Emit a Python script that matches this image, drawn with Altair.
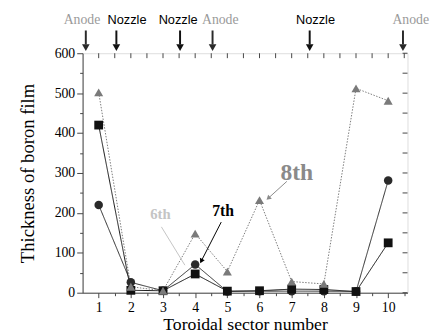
import altair as alt
import pandas as pd

# ---------------- data ----------------
sectors = [1, 2, 3, 4, 5, 6, 7, 8, 9, 10]
circle_vals = [220, 26, 5, 71, 3, 4, 4, 4, 3, 281]
square_vals = [420, 6, 5, 47, 4, 5, 9, 8, 3, 125]
triangle_vals = [502, 15, 5, 148, 53, 232, 28, 22, 512, 481]

series_names = ["circle", "square", "triangle"]
series_colors = ["#2a2a2a", "#111111", "#7a7a7a"]
series_shapes = ["circle", "square", "triangle-up"]
series_dash = [[1, 0], [1, 0], [1.5, 1.5]]
series_sizes = [75, 85, 95]

# top annotations (arrows pointing at sector boundaries)
anode_arrow_x = [0.6, 4.54, 10.46]
anode_text_x = [0.48, 4.78, 10.7]
nozzle_arrow_x = [1.55, 3.53, 7.56]
nozzle_text_x = [1.88, 3.47, 7.74]

# callouts
callout_labels = ["8th", "7th", "6th"]
callout_x = [7.16, 4.87, 2.92]
callout_y = [300, 204, 197]
callout_colors = ["#8a8a8a", "#000000", "#c4c4c4"]
callout_sizes = [24, 16, 15]
callout_line_x = [6.85, 4.81, 2.95]
callout_line_y = [279, 177, 165]
callout_line_x2 = [6.29, 4.20, 3.68]
callout_line_y2 = [238, 81, 69]
callout_head_angle = [228, 207, 215]
callout_has_head = [True, True, False]

# axis tick values
x_ticks = [1 + 0.5 * i for i in range(20)]
y_ticks = list(range(0, 601, 50))

W, H = 331, 244
X_DOMAIN = [0.5, 10.6]
Y_DOMAIN = [0, 600]
TICK_PX = 5

# ---------------- frames ----------------
rows = []
for name, vals in zip(series_names, [circle_vals, square_vals, triangle_vals]):
    for s, v in zip(sectors, vals):
        rows.append({"sector": s, "value": v, "series": name})
df = pd.DataFrame(rows)

top_df = pd.DataFrame(
    [{"ax": x, "tx": t, "kind": "Anode"} for x, t in zip(anode_arrow_x, anode_text_x)]
    + [{"ax": x, "tx": t, "kind": "Nozzle"} for x, t in zip(nozzle_arrow_x, nozzle_text_x)]
)
top_df["y_text"] = 683
top_df["y_top"] = 657
top_df["y_bot"] = 622
top_df["y_head"] = 614

call_df = pd.DataFrame({
    "label": callout_labels, "x": callout_x, "y": callout_y,
    "color": callout_colors, "size": callout_sizes,
    "lx": callout_line_x, "ly": callout_line_y,
    "lx2": callout_line_x2, "ly2": callout_line_y2,
    "angle": callout_head_angle, "head": callout_has_head,
})

# inward frame ticks (top and right edges), lengths derived from the scale domains
y_per_px = (Y_DOMAIN[1] - Y_DOMAIN[0]) / H
x_per_px = (X_DOMAIN[1] - X_DOMAIN[0]) / W
xt_df = pd.DataFrame({"t": x_ticks})
xt_df["y0"] = Y_DOMAIN[1]
xt_df["y1"] = Y_DOMAIN[1] - TICK_PX * y_per_px
yt_df = pd.DataFrame({"t": y_ticks})
yt_df["x0"] = X_DOMAIN[1]
yt_df["x1"] = X_DOMAIN[1] - TICK_PX * x_per_px

xs = alt.Scale(domain=X_DOMAIN, nice=False, zero=False)
ys = alt.Scale(domain=Y_DOMAIN, nice=False, zero=False)

SERIF = "Liberation Serif"
AXC = "#444444"

AX_X = alt.Axis(
    orient="bottom", values=x_ticks, title="Toroidal sector number",
    labelExpr="datum.value % 1 === 0 ? format(datum.value, 'd') : ''",
    tickSize={"condition": {"test": "datum.value % 1 === 0", "value": 5}, "value": 3},
    labelFont=SERIF, labelFontSize=14, labelColor="#000", labelPadding=3,
    titleFont=SERIF, titleFontSize=18, titleFontWeight="normal", titleColor="#000",
    titlePadding=1, domainColor=AXC, tickColor=AXC, grid=False,
)
AX_Y = alt.Axis(
    orient="left", values=y_ticks, title="Thickness of boron film",
    labelExpr="datum.value % 100 === 0 ? datum.label : ''",
    tickSize={"condition": {"test": "datum.value % 100 === 0", "value": 6}, "value": 3},
    labelFont=SERIF, labelFontSize=14, labelColor="#000", labelPadding=2,
    titleFont=SERIF, titleFontSize=19, titleFontWeight="normal", titleColor="#000",
    titlePadding=17, domainColor=AXC, tickColor=AXC, grid=False,
)


def X(field):
    return alt.X(field, type="quantitative", scale=xs, axis=AX_X)


def Y(field):
    return alt.Y(field, type="quantitative", scale=ys, axis=AX_Y)


color_enc = alt.Color("series:N", scale=alt.Scale(domain=series_names, range=series_colors), legend=None)
kind_color = alt.Color("kind:N", scale=alt.Scale(domain=["Anode", "Nozzle"], range=["#9a9a9a", "#000000"]), legend=None)

lines = alt.Chart(df).mark_line(strokeWidth=1).encode(
    x=X("sector"), y=Y("value"), color=color_enc,
    strokeDash=alt.StrokeDash("series:N", scale=alt.Scale(domain=series_names, range=series_dash), legend=None),
    detail="series:N",
)

points = alt.Chart(df).mark_point(filled=True, opacity=1).encode(
    x=X("sector"), y=Y("value"),
    color=color_enc,
    shape=alt.Shape("series:N", scale=alt.Scale(domain=series_names, range=series_shapes), legend=None),
    size=alt.Size("series:N", scale=alt.Scale(domain=series_names, range=series_sizes), legend=None),
)

top_ticks = alt.Chart(xt_df).mark_rule(color=AXC, strokeWidth=1).encode(
    x=X("t"), y=Y("y0"), y2="y1:Q",
)
right_ticks = alt.Chart(yt_df).mark_rule(color=AXC, strokeWidth=1).encode(
    y=Y("t"), x=X("x0"), x2="x1:Q",
)

top_rules = alt.Chart(top_df).mark_rule(strokeWidth=2).encode(
    x=X("ax"), y=Y("y_top"), y2="y_bot:Q", color=kind_color,
)
top_heads = alt.Chart(top_df).mark_point(filled=True, opacity=1, shape="triangle-down", size=60).encode(
    x=X("ax"), y=Y("y_head"), color=kind_color,
)
anode_text = alt.Chart(top_df).transform_filter("datum.kind === 'Anode'").mark_text(
    font=SERIF, fontSize=14, color="#9a9a9a", baseline="middle"
).encode(x=X("tx"), y=Y("y_text"), text="kind:N")
nozzle_text = alt.Chart(top_df).transform_filter("datum.kind === 'Nozzle'").mark_text(
    font="Liberation Sans", fontSize=13, color="#000000", baseline="middle"
).encode(x=X("tx"), y=Y("y_text"), text="kind:N")

call_text = alt.Chart(call_df).mark_text(font=SERIF, fontWeight="bold", baseline="middle").encode(
    x=X("x"), y=Y("y"), text="label:N",
    color=alt.Color("color:N", scale=None),
    size=alt.Size("size:Q", scale=None),
)
call_lines = alt.Chart(call_df).mark_rule(strokeWidth=1).encode(
    x=X("lx"), y=Y("ly"), x2="lx2:Q", y2="ly2:Q",
    color=alt.Color("color:N", scale=None),
)
call_heads = alt.Chart(call_df).transform_filter("datum.head").mark_point(
    filled=True, opacity=1, shape="triangle", size=30
).encode(
    x=X("lx2"), y=Y("ly2"),
    angle=alt.Angle("angle:Q", scale=None),
    color=alt.Color("color:N", scale=None),
)

chart = alt.layer(
    lines, points, call_lines, call_heads, call_text,
    top_rules, top_heads, anode_text, nozzle_text, top_ticks, right_ticks,
).properties(
    width=W, height=H,
    autosize=alt.AutoSizeParams(type="none"),
    padding={"left": 76, "top": 43, "right": 26, "bottom": 41},
).configure_view(stroke=AXC, strokeWidth=1).configure(background="white")

chart.save("out.html", embed_options={"renderer": "svg", "actions": False})
